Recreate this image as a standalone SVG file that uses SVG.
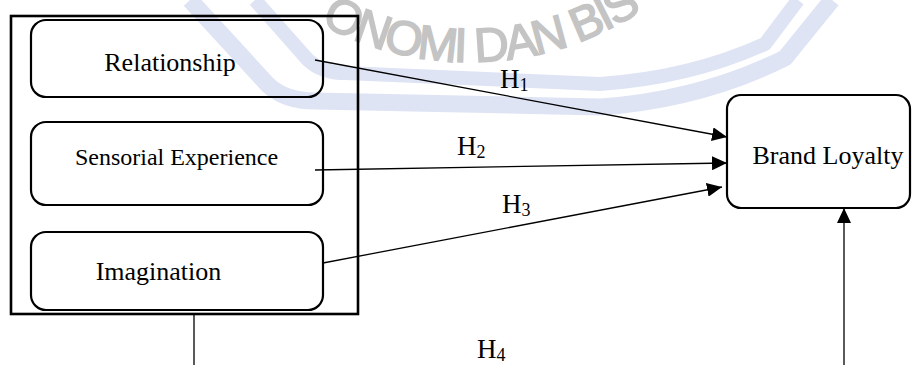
<svg xmlns="http://www.w3.org/2000/svg" width="912" height="365" viewBox="0 0 912 365">
  <defs>
    <style>
      .band { fill: none; stroke: #dfe4f5; stroke-linejoin: round; }
      .wm { font-family: "Liberation Sans", Arial, sans-serif; font-size: 48px; fill: #c4c4c4; stroke: #c4c4c4; stroke-width: 1.6px; letter-spacing: -2.5px; }
      .box { fill: none; stroke: #000; stroke-width: 2.2; }
      .frame { fill: none; stroke: #000; stroke-width: 2.6; }
      .lbl { font-family: "Liberation Serif", "Times New Roman", serif; fill: #000; }
      .conn { fill: none; stroke: #000; stroke-width: 1.3; }
      .hl { font-family: "Liberation Serif", "Times New Roman", serif; font-size: 27px; fill: #000; }
      .sub { font-size: 18px; }
    </style>
    <marker id="arrow" markerUnits="userSpaceOnUse" markerWidth="15" markerHeight="14" refX="15" refY="7" orient="auto">
      <path d="M0,0 L15,7 L0,14 z" fill="#000"/>
    </marker>
    <path id="wmArc" d="M 300 11.6 A 312 312 0 0 0 720 -63.3"/>
  </defs>

  <rect width="912" height="365" fill="#fff"/>

  <g id="watermark">
    <path class="band" stroke-width="17" d="M 190 0 L 268 85 Q 285 101 315 101 L 600 107 Q 700 100 785 58 L 832 0"/>
    <path class="band" stroke-width="14" d="M 255 0 L 308 60 Q 322 73 345 73 L 600 84 Q 690 78 765 44 L 798 0"/>
    <text class="wm"><textPath href="#wmArc" startOffset="24">ONOMI DAN BIS</textPath></text>
  </g>

  <g id="frame">
    <rect class="frame" x="11" y="16" width="347" height="298"/>
  </g>

  <g id="relationship">
    <rect class="box" x="31" y="20" width="292" height="77" rx="15" ry="15"/>
    <text class="lbl" x="170" y="71" font-size="26" text-anchor="middle">Relationship</text>
  </g>

  <g id="sensorial">
    <rect class="box" x="31" y="122" width="292" height="83" rx="15" ry="15"/>
    <text class="lbl" x="176.5" y="165" font-size="24" text-anchor="middle">Sensorial Experience</text>
  </g>

  <g id="imagination">
    <rect class="box" x="31" y="232" width="292" height="78" rx="15" ry="15"/>
    <text class="lbl" x="158.5" y="280" font-size="26" text-anchor="middle">Imagination</text>
  </g>

  <g id="brand-loyalty">
    <rect class="box" x="727" y="95" width="183" height="113" rx="14" ry="14"/>
    <text class="lbl" x="828" y="164" font-size="26" text-anchor="middle">Brand Loyalty</text>
  </g>

  <g id="connectors">
    <line class="conn" x1="315" y1="60" x2="727" y2="137" marker-end="url(#arrow)"/>
    <line class="conn" x1="315" y1="170" x2="727" y2="163" marker-end="url(#arrow)"/>
    <line class="conn" x1="323" y1="263" x2="722" y2="187" marker-end="url(#arrow)"/>
    <line class="conn" x1="194" y1="314" x2="194" y2="366"/>
    <line class="conn" x1="844" y1="366" x2="844" y2="208" marker-end="url(#arrow)"/>
  </g>

  <g id="labels">
    <text class="hl" x="500" y="88">H<tspan class="sub" dy="3">1</tspan></text>
    <text class="hl" x="457" y="155">H<tspan class="sub" dy="3">2</tspan></text>
    <text class="hl" x="502" y="213">H<tspan class="sub" dy="3">3</tspan></text>
    <text class="hl" x="477" y="358">H<tspan class="sub" dy="3">4</tspan></text>
  </g>
</svg>
